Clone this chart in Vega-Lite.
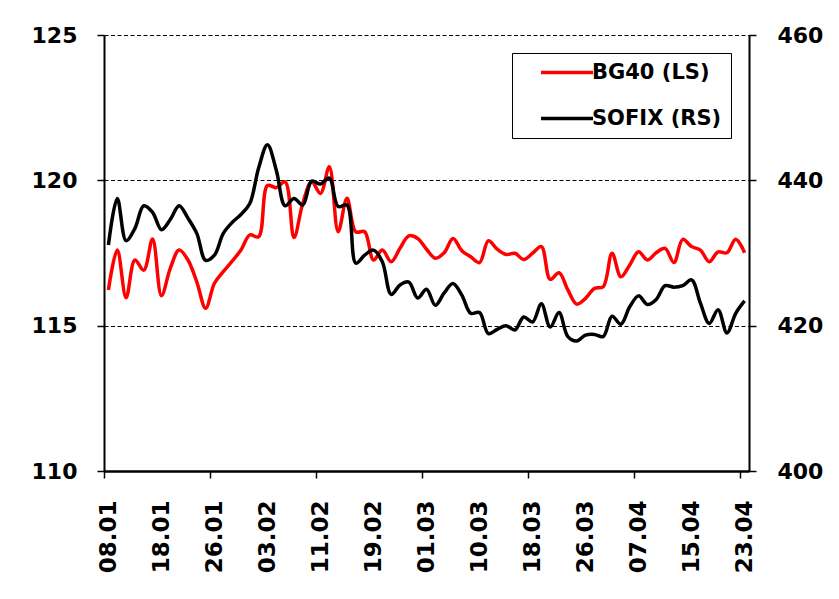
{
  "$schema": "https://vega.github.io/schema/vega-lite/v6.json",
  "width": 645,
  "height": 436,
  "autosize": "none",
  "padding": {"left": 104, "top": 35, "right": 90, "bottom": 128},
  "background": "white",
  "config": {
    "view": {"stroke": null},
    "axis": {
      "labelFont": "DejaVu Sans",
      "labelFontWeight": "bold",
      "labelColor": "black",
      "domainColor": "black",
      "tickColor": "black",
      "titleColor": "black"
    }
  },
  "data": {
    "values": [
      {"date": "08.01", "bg40": 116.23, "sofix": 431.1},
      {"date": "11.01", "bg40": 117.6, "sofix": 437.5},
      {"date": "12.01", "bg40": 115.96, "sofix": 431.7},
      {"date": "13.01", "bg40": 117.26, "sofix": 433.4},
      {"date": "14.01", "bg40": 116.91, "sofix": 436.5},
      {"date": "15.01", "bg40": 117.98, "sofix": 435.6},
      {"date": "18.01", "bg40": 116.03, "sofix": 433.2},
      {"date": "19.01", "bg40": 116.97, "sofix": 434.6},
      {"date": "20.01", "bg40": 117.6, "sofix": 436.5},
      {"date": "21.01", "bg40": 117.26, "sofix": 434.8},
      {"date": "22.01", "bg40": 116.51, "sofix": 432.7},
      {"date": "25.01", "bg40": 115.6, "sofix": 429.0},
      {"date": "26.01", "bg40": 116.46, "sofix": 429.7},
      {"date": "27.01", "bg40": 116.86, "sofix": 432.7},
      {"date": "28.01", "bg40": 117.22, "sofix": 434.2},
      {"date": "29.01", "bg40": 117.6, "sofix": 435.3},
      {"date": "01.02", "bg40": 118.12, "sofix": 436.8},
      {"date": "02.02", "bg40": 118.06, "sofix": 441.7},
      {"date": "03.02", "bg40": 119.82, "sofix": 444.9},
      {"date": "04.02", "bg40": 119.75, "sofix": 441.4},
      {"date": "05.02", "bg40": 119.95, "sofix": 436.5},
      {"date": "08.02", "bg40": 118.03, "sofix": 437.5},
      {"date": "09.02", "bg40": 119.21, "sofix": 436.6},
      {"date": "10.02", "bg40": 119.95, "sofix": 439.9},
      {"date": "11.02", "bg40": 119.55, "sofix": 439.5},
      {"date": "12.02", "bg40": 120.47, "sofix": 440.3},
      {"date": "15.02", "bg40": 118.23, "sofix": 436.4},
      {"date": "16.02", "bg40": 119.38, "sofix": 436.6},
      {"date": "17.02", "bg40": 118.23, "sofix": 428.6},
      {"date": "18.02", "bg40": 118.23, "sofix": 429.7},
      {"date": "19.02", "bg40": 117.26, "sofix": 430.4},
      {"date": "22.02", "bg40": 117.6, "sofix": 428.8},
      {"date": "23.02", "bg40": 117.2, "sofix": 424.3},
      {"date": "24.02", "bg40": 117.66, "sofix": 425.6},
      {"date": "25.02", "bg40": 118.09, "sofix": 426.0},
      {"date": "26.02", "bg40": 118.0, "sofix": 423.8},
      {"date": "01.03", "bg40": 117.63, "sofix": 425.0},
      {"date": "02.03", "bg40": 117.32, "sofix": 422.8},
      {"date": "04.03", "bg40": 117.51, "sofix": 424.5},
      {"date": "05.03", "bg40": 118.0, "sofix": 425.8},
      {"date": "08.03", "bg40": 117.58, "sofix": 424.2},
      {"date": "09.03", "bg40": 117.37, "sofix": 421.7},
      {"date": "10.03", "bg40": 117.17, "sofix": 421.8},
      {"date": "11.03", "bg40": 117.92, "sofix": 418.9},
      {"date": "12.03", "bg40": 117.63, "sofix": 419.5},
      {"date": "15.03", "bg40": 117.45, "sofix": 420.0},
      {"date": "16.03", "bg40": 117.49, "sofix": 419.4},
      {"date": "17.03", "bg40": 117.28, "sofix": 421.2},
      {"date": "18.03", "bg40": 117.49, "sofix": 420.5},
      {"date": "19.03", "bg40": 117.72, "sofix": 423.0},
      {"date": "22.03", "bg40": 116.59, "sofix": 419.8},
      {"date": "23.03", "bg40": 116.82, "sofix": 421.8},
      {"date": "24.03", "bg40": 116.23, "sofix": 418.5},
      {"date": "25.03", "bg40": 115.74, "sofix": 417.9},
      {"date": "26.03", "bg40": 115.94, "sofix": 418.7},
      {"date": "29.03", "bg40": 116.28, "sofix": 418.8},
      {"date": "30.03", "bg40": 116.34, "sofix": 418.5},
      {"date": "31.03", "bg40": 117.49, "sofix": 421.3},
      {"date": "01.04", "bg40": 116.68, "sofix": 420.2},
      {"date": "06.04", "bg40": 117.09, "sofix": 422.6},
      {"date": "07.04", "bg40": 117.54, "sofix": 424.1},
      {"date": "08.04", "bg40": 117.26, "sofix": 422.9},
      {"date": "09.04", "bg40": 117.51, "sofix": 423.6},
      {"date": "12.04", "bg40": 117.66, "sofix": 425.5},
      {"date": "13.04", "bg40": 117.17, "sofix": 425.3},
      {"date": "14.04", "bg40": 117.97, "sofix": 425.5},
      {"date": "15.04", "bg40": 117.72, "sofix": 426.3},
      {"date": "16.04", "bg40": 117.6, "sofix": 423.1},
      {"date": "19.04", "bg40": 117.2, "sofix": 420.3},
      {"date": "20.04", "bg40": 117.54, "sofix": 422.2},
      {"date": "21.04", "bg40": 117.51, "sofix": 419.0},
      {"date": "22.04", "bg40": 117.97, "sofix": 421.7},
      {"date": "23.04", "bg40": 117.51, "sofix": 423.4}
    ]
  },
  "layer": [
    {
      "mark": {"type": "line", "strokeWidth": 3.5, "interpolate": "catmull-rom"},
      "encoding": {
        "x": {
          "field": "date", "type": "ordinal", "sort": null,
          "scale": {"type": "point", "padding": 0.5},
          "axis": {
            "orient": "bottom", "title": null,
            "values": ["08.01","18.01","26.01","03.02","11.02","19.02","01.03","10.03","18.03","26.03","07.04","15.04","23.04"],
            "labelAngle": -90, "labelFontSize": 23, "labelPadding": 29,
            "ticks": false, "tickSize": 0, "domain": true, "domainWidth": 2, "grid": false
          }
        },
        "y": {
          "field": "bg40", "type": "quantitative",
          "scale": {"domain": [110, 125], "nice": false, "zero": false},
          "axis": {
            "orient": "left", "title": null, "values": [110, 115, 120, 125],
            "labelFontSize": 22, "labelPadding": 20, "tickSize": 7, "tickWidth": 1.5,
            "domainWidth": 2, "grid": true, "gridColor": "black", "gridDash": [4, 2.5], "gridWidth": 1
          }
        },
        "color": {
          "datum": "BG40 (LS)",
          "scale": {"domain": ["BG40 (LS)", "SOFIX (RS)"], "range": ["#ff0000", "#000000"]},
          "legend": {
            "orient": "top-right", "offset": 18, "title": null, "direction": "vertical",
            "fillColor": "white", "strokeColor": "black",
            "padding": 9, "rowPadding": 24,
            "symbolType": "M1.27,0H8.2", "symbolSize": 225, "symbolStrokeWidth": 3.5,
            "labelFont": "DejaVu Sans", "labelFontWeight": "bold", "labelFontSize": 21,
            "labelOffset": 50, "labelColor": "black",
            "labelExpr": "datum.label + '\u00a0\u00a0\u00a0\u00a0'"
          }
        }
      }
    },
    {
      "mark": {"type": "line", "strokeWidth": 3.5, "interpolate": "catmull-rom"},
      "encoding": {
        "x": {
          "field": "date", "type": "ordinal", "sort": null,
          "axis": {
            "orient": "bottom", "title": null,
            "values": ["08.01","26.01","11.02","01.03","18.03","07.04","23.04"],
            "labels": false, "ticks": true, "tickSize": 7, "tickWidth": 1.5, "tickOffset": -4.42,
            "domain": true, "domainWidth": 2, "grid": false
          }
        },
        "y": {
          "field": "sofix", "type": "quantitative",
          "scale": {"domain": [400, 460], "nice": false, "zero": false},
          "axis": {
            "orient": "right", "title": null, "values": [400, 420, 440, 460],
            "labelFontSize": 22, "labelPadding": 21, "tickSize": 7, "tickWidth": 1.5,
            "domainWidth": 2, "grid": false
          }
        },
        "color": {"datum": "SOFIX (RS)"}
      }
    }
  ],
  "resolve": {"scale": {"y": "independent"}, "axis": {"x": "independent"}}
}
